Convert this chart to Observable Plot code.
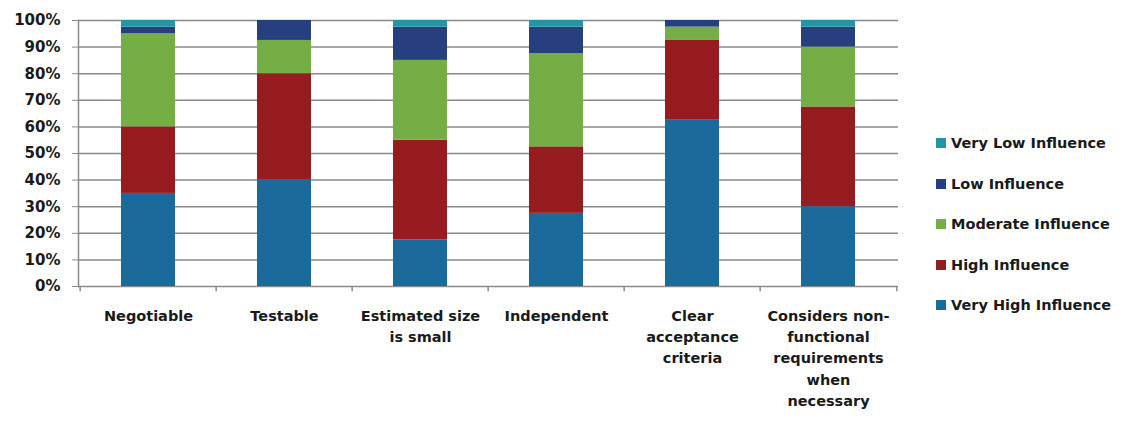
<!DOCTYPE html>
<html>
<head>
<meta charset="utf-8">
<script src="https://cdn.jsdelivr.net/npm/d3@7"></script>
<script src="https://cdn.jsdelivr.net/npm/@observablehq/plot@0.6"></script>
<style>
  body { margin: 0; background: #fff; }
  #wrap { position: relative; width: 1135px; height: 436px; font-family: "DejaVu Sans", sans-serif; }
  #chart { position: absolute; left: 0; top: 0; }
  #legend { position: absolute; left: 936px; top: 123px; }
  .item { display: flex; align-items: center; height: 40.5px; font-size: 14.5px; font-weight: bold; color: #1a1a1a; }
  .sw { width: 10px; height: 10px; margin-right: 5px; }
</style>
</head>
<body>
<div id="wrap"><div id="chart"></div><div id="legend"></div></div>
<script>
const categories = ["Negotiable", "Testable", "Estimated size is small", "Independent", "Clear acceptance criteria", "Considers non-functional requirements when necessary"];
const tickLabels = ["Negotiable", "Testable", "Estimated size\nis small", "Independent", "Clear\nacceptance\ncriteria", "Considers non-\nfunctional\nrequirements\nwhen\nnecessary"];
const series = ["Very High Influence", "High Influence", "Moderate Influence", "Low Influence", "Very Low Influence"];
const colors = ["#1b6a9c", "#961c1f", "#74ae45", "#283f7f", "#2396a6"];
const veryHigh = [35, 40, 17.5, 27.5, 62.5, 30];
const high = [25, 40, 37.5, 25, 30, 37.5];
const moderate = [35, 12.5, 30, 35, 5, 22.5];
const low = [2.5, 7.5, 12.5, 10, 2.5, 7.5];
const veryLow = [2.5, 0, 2.5, 2.5, 0, 2.5];
const yTicks = [0, 10, 20, 30, 40, 50, 60, 70, 80, 90, 100];

const valuesBySeries = [veryHigh, high, moderate, low, veryLow];
const data = [];
series.forEach((s, si) => categories.forEach((c, ci) => data.push({category: c, series: s, value: valuesBySeries[si][ci]})));
const labelOf = new Map(categories.map((c, i) => [c, tickLabels[i]]));

const W = 905;
const bw = (W - 78 - 7) / categories.length;

const plot = Plot.plot({
  width: W,
  height: 436,
  marginLeft: 78,
  marginRight: 7,
  marginTop: 20,
  marginBottom: 150,
  style: {fontFamily: "DejaVu Sans, sans-serif", fontSize: "15px", fontWeight: "bold", color: "#1a1a1a", background: "#fff"},
  x: {domain: categories, paddingInner: 0.6, paddingOuter: 0.3, axis: null},
  y: {domain: [0, 100], axis: null},
  color: {domain: series, range: colors},
  marks: [
    Plot.ruleY(yTicks, {stroke: "#8a8a8a", strokeWidth: 1.5}),
    Plot.axisY({ticks: yTicks, label: null, tickSize: 6, tickPadding: 12, tickFormat: d => d + "%", stroke: "#8a8a8a", fontSize: 15, fontWeight: "bold", fill: "#1a1a1a"}),
    Plot.frame({anchor: "left", stroke: "#8a8a8a", strokeWidth: 1.5}),
    Plot.ruleX(categories, {x: d => d, dx: -bw / 2, y1: 0, y2: -2, stroke: "#8a8a8a", strokeWidth: 1.5}),
    Plot.ruleX(categories.slice(-1), {x: d => d, dx: bw / 2, y1: 0, y2: -2, stroke: "#8a8a8a", strokeWidth: 1.5}),
    Plot.barY(data, {x: "category", y: "value", fill: "series", order: series}),
    Plot.text(categories, {x: d => d, frameAnchor: "bottom", text: d => labelOf.get(d), lineAnchor: "top", lineHeight: 1.45, dy: 20, fontSize: 14.5, fontWeight: "bold", fill: "#1a1a1a"})
  ]
});
document.getElementById("chart").appendChild(plot);

const legend = document.getElementById("legend");
series.slice().reverse().forEach(s => {
  const row = document.createElement("div");
  row.className = "item";
  const sw = document.createElement("span");
  sw.className = "sw";
  sw.style.background = colors[series.indexOf(s)];
  row.appendChild(sw);
  row.appendChild(document.createTextNode(s));
  legend.appendChild(row);
});
</script>
</body>
</html>
